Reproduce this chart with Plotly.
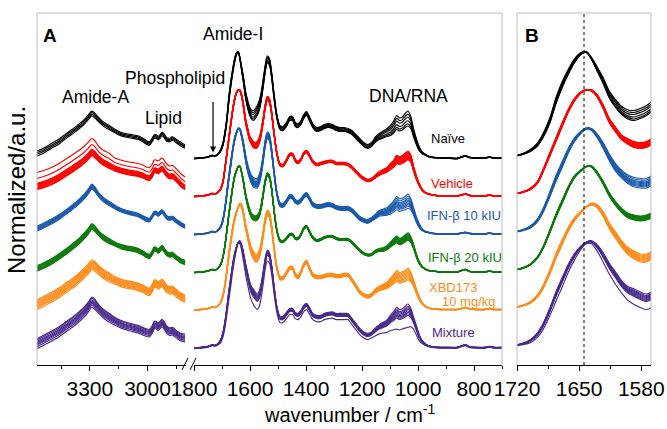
import plotly.graph_objects as go

# ---------------- data ----------------
groups = ["Naïve", "Vehicle", "IFN-β 10 kIU", "IFN-β 20 kIU", "XBD173", "Mixture"]
colors = ["#000000", "#ff0000", "#1a5aab", "#0b7a0b", "#ff8c1a", "#4b2a8c"]

# stacking offsets (a.u.)
offsets = [206.5, 168.5, 130.5, 92.5, 55.0, 17.0]

# Amide-A / lipid region wavenumbers (cm-1)
wn_high = [3575, 3540, 3500, 3460, 3420, 3380, 3350, 3325, 3305, 3290,
           3275, 3255, 3230, 3200, 3170, 3140, 3110, 3080, 3050, 3025,
           3005, 2990, 2975, 2965, 2955, 2945, 2935, 2925, 2915, 2900,
           2885, 2870, 2855, 2840, 2825, 2805]

high_naive = [5, 8, 12.5, 17, 23, 28.5, 33, 37.5, 42, 45,
              43, 39, 34.5, 31, 27.5, 24.5, 23, 22, 21, 18.5,
              16, 15, 19, 22, 22, 20.5, 22, 24.5, 23, 19,
              18.5, 20, 18, 16, 14, 12]
high_vehicle = [10, 12, 15, 19, 24, 29, 33, 37, 41, 44,
                42, 38, 34, 31, 28, 26, 24.5, 23.5, 22.5, 21,
                19, 18.5, 22, 26, 26, 25, 26.5, 28, 26, 22,
                20, 20.5, 18, 15, 12, 9]
high_ifn10 = [6, 9, 13, 17.5, 23, 29, 34, 39, 44, 48,
              45.5, 40, 35, 31, 27.5, 24.5, 22.5, 21, 19.5, 17,
              15, 14.5, 18.5, 21.5, 21.5, 20, 21.5, 23, 21, 17,
              16, 16.5, 14, 12, 10, 8]
high_ifn20 = [4, 7, 11, 16, 21.5, 27.5, 32.5, 37.5, 42, 46,
              44, 39.5, 35, 31.5, 28.5, 26, 24.5, 23.5, 22, 19.5,
              17, 16, 20, 23.5, 23, 21.5, 23, 25, 23, 19,
              17.5, 18, 15.5, 13.5, 11.5, 10]
high_xbd = [5, 8.5, 12.5, 17, 22.5, 28, 33, 37.5, 41.5, 45,
            43.5, 40, 36, 32.5, 29.5, 27, 25.5, 24.5, 23, 21,
            19, 18, 22, 26, 26, 24.5, 25.5, 27, 25, 21,
            19.5, 20, 17.5, 15, 13, 11]
high_mix = [4.5, 8, 12, 16.5, 22, 27.5, 32.5, 37, 42, 46,
            44, 39.5, 34.5, 30.5, 27, 24, 22, 20.5, 19, 17,
            15.5, 15, 19, 23, 23, 21.5, 23, 25, 23, 18.5,
            16.5, 17, 14.5, 12.5, 11, 10]
high_spread = [4, 4, 4, 4, 4, 4, 4, 4, 4, 4,
               4, 3.5, 3.5, 3.5, 3, 3, 3, 3, 3, 3,
               3, 3, 3, 3, 3, 3, 3, 3, 3, 3,
               3, 3, 3, 3, 3, 3]

# fingerprint region wavenumbers (cm-1)
wn_low = [1800, 1775, 1750, 1735, 1725, 1715, 1705, 1697, 1690, 1683,
          1676, 1669, 1662, 1655, 1648, 1642, 1636, 1630, 1623, 1616,
          1609, 1602, 1595, 1588, 1581, 1574, 1567, 1560, 1552, 1545,
          1538, 1531, 1523, 1514, 1504, 1493, 1482, 1470, 1458, 1448,
          1438, 1428, 1418, 1408, 1398, 1388, 1376, 1362, 1348, 1334,
          1320, 1306, 1292, 1278, 1264, 1250, 1236, 1222, 1208, 1194,
          1180, 1166, 1152, 1138, 1124, 1110, 1098, 1086, 1076, 1066,
          1056, 1046, 1036, 1026, 1016, 1006, 996, 986, 975, 962,
          945, 920, 890, 860, 845, 830, 815, 790, 760, 745,
          730, 700]

low_naive = [0, 0.5, 1.5, 3, 2.5, 4, 8, 14, 24, 38,
             58, 74, 87, 98, 105, 106.5, 100, 90, 78, 64,
             55, 48, 44, 43, 45, 48, 53, 62, 77, 91,
             99, 97, 84, 62, 42, 31, 30, 34, 40, 40,
             34, 33, 36, 42, 45, 40, 33, 29, 30, 32,
             33, 32, 30, 29, 29, 28, 26, 22, 18, 14,
             12, 14, 19, 22, 24, 26, 28, 32, 36, 34,
             35, 38, 40, 36, 26, 17, 10, 6, 4, 2,
             1, 0.5, 0.5, 0, 1.5, 2.5, 1, 0.5, 0.5, 1.5,
             0.5, 0.5]
low_vehicle = [0, 0.5, 1.5, 3, 2.5, 4, 7.5, 14, 27, 42,
               57, 72, 86, 97, 104, 106.5, 106, 101, 90, 76,
               67, 59, 55, 52, 51, 52, 56, 64, 78, 91,
               98, 96, 84, 63, 43, 32, 31, 36, 42, 42,
               36, 34, 37, 43, 45, 41, 35, 32, 33, 34,
               35, 35, 33, 33, 33, 32, 29, 25, 21, 18,
               16, 17, 20, 23, 25, 27, 30, 33, 37, 36,
               37, 39, 41, 38, 28, 19, 12, 7, 4, 2.5,
               1.5, 0.5, 0.5, 0.5, 1.5, 2.5, 1, 0.5, 0.5, 1.5,
               0.5, 0.5]
low_ifn10 = [0, 0.5, 1.5, 3, 2.5, 4, 7.5, 14, 25, 40,
             56, 70, 84, 95, 102, 106, 105, 99, 89, 77,
             67, 60, 55, 52, 51, 51, 55, 63, 78, 92,
             99, 97, 84, 62, 41, 30, 29, 33, 38, 37,
             33, 32, 34, 38, 40, 36, 30, 28, 28, 29,
             30, 29, 27, 26, 26, 26, 24, 20, 16, 14,
             13, 15, 18, 21, 22, 23, 25, 28, 31, 29,
             30, 31, 33, 30, 23, 15, 9, 5, 3, 2,
             1, 0.5, 0.5, 0.5, 1.5, 2, 1, 0.5, 0.5, 1.5,
             0.5, 0.5]
low_ifn20 = [0, 0.5, 1.5, 3, 2.5, 4, 8, 15, 26, 41,
             57, 71, 85, 96, 102, 106, 106, 100, 90, 78,
             69, 62, 57, 55, 54, 55, 58, 66, 80, 92,
             98, 96, 84, 62, 42, 32, 31, 34, 38, 38,
             34, 34, 38, 44, 46, 41, 35, 32, 33, 35,
             36, 36, 34, 33, 33, 33, 30, 26, 22, 19,
             17.5, 18, 21, 22.5, 23, 25, 28, 31, 33, 31,
             32, 34, 36, 33, 26, 17, 10, 6, 3.5, 2,
             1.5, 0.5, 0.5, 0.5, 2, 3, 1, 0.5, 0.5, 1.5,
             0.5, 0.5]
low_xbd = [0, 0.5, 1.5, 3, 2.5, 4, 7.5, 14, 24, 38,
           54, 68, 81, 91, 98, 103, 106, 104, 96, 84,
           75, 66, 59, 55, 52, 52, 56, 64, 78, 91,
           97, 95, 83, 62, 42, 32, 32, 37, 42, 42,
           35, 33, 38, 45, 48, 42, 35, 33, 33, 34,
           35, 35, 34, 34, 35, 35, 30, 24, 18, 15,
           13.5, 15, 19, 21.5, 23, 25, 28, 31, 34, 32,
           33, 34, 36, 33, 27, 19, 12, 7, 4, 2,
           1, 0.5, 0.5, 0.5, 1.5, 2.5, 1, 0.5, 0.5, 1.5,
           0.5, 0.5]
low_mix = [0, 0.5, 1.5, 3, 2.5, 4, 7.5, 14, 24, 38,
           54, 68, 82, 93, 101, 105.5, 106.5, 102, 93, 82,
           73, 64, 58, 55, 52, 50, 53, 61, 75, 88,
           95, 93, 81, 60, 40, 30, 30, 34, 38, 38,
           34, 33, 36, 41, 43, 39, 33, 31, 31, 33,
           34, 34.5, 33, 33, 33, 33, 28, 23, 18, 14.5,
           13, 14.5, 18, 21, 23, 25, 29, 32, 35, 33,
           34, 36, 38, 35, 28, 20, 12, 7, 4, 2,
           1, 0.5, 0.5, 0.5, 2, 3, 1, 0.5, 0.5, 1.5,
           0.5, 0.5]
low_spread = [0.3, 0.3, 0.3, 0.3, 0.3, 0.4, 1, 1.5, 2, 2.5,
              3, 3, 2.5, 2, 1, 0.5, 1, 2, 3, 3.5,
              4, 4, 4.5, 5, 5, 5, 5, 4.5, 4, 3.5,
              3.5, 3.5, 3, 2.5, 2, 2, 2, 2, 2, 2,
              2, 2, 2, 2, 2, 2, 2, 2, 2, 2,
              2, 2, 2, 2, 2, 2, 2, 2, 2, 2,
              2, 2, 2.5, 3, 3.5, 4, 5, 6, 7, 6.5,
              6.5, 7, 7.5, 6, 4, 3, 2, 1, 0.5, 0.3,
              0.3, 0.3, 0.3, 0.3, 0.3, 0.3, 0.3, 0.3, 0.3, 0.3,
              0.3, 0.3]

# replicate deviations (in units of the spread profile)
rep_high = [
    [-0.6, -0.2, 0.2, 0.6],
    [-0.8, -0.6, -0.4, -0.2, 0, 0.2, 0.4, 0.6, 0.8, 2.0, 3.5],
    [-0.6, -0.4, -0.2, 0, 0.2, 0.4, 0.6],
    [-0.7, -0.5, -0.3, -0.1, 0.1, 0.3, 0.5, 0.7],
    [-1.2, -0.8, -0.5, -0.2, 0.1, 0.4, 0.7, 1.0, 1.3],
    [-1.3, -0.8, -0.4, -0.1, 0.2, 0.5, 0.9, 1.2],
]
rep_low = [
    [-1.0, -0.7, -0.3, 0.2, 0.6, 1.0],
    [-0.6, -0.5, -0.4, -0.3, -0.2, -0.1, 0, 0.1, 0.2, 0.3, 0.4, 0.5, 0.6],
    [-0.9, -0.6, -0.4, -0.2, 0, 0.2, 0.4, 0.7, 1.0],
    [-0.5, -0.4, -0.3, -0.2, -0.1, 0, 0.1, 0.2, 0.3, 0.4, 0.5],
    [-0.8, -0.6, -0.4, -0.2, 0, 0.2, 0.4, 0.6, 0.8],
    [-0.7, -0.5, -0.3, -0.1, 0.1, 0.3, 0.5, 0.8, -2.3],
]

high_all = [high_naive, high_vehicle, high_ifn10, high_ifn20, high_xbd, high_mix]
low_all = [low_naive, low_vehicle, low_ifn10, low_ifn20, low_xbd, low_mix]

for arr in high_all + [high_spread]:
    assert len(arr) == len(wn_high), len(arr)
for arr in low_all + [low_spread]:
    assert len(arr) == len(wn_low), len(arr)

ticks_high = [3300, 3000]
minor_high = [3450, 3150, 2850]
ticks_low = [1800, 1600, 1400, 1200, 1000, 800]
minor_low = [1700, 1500, 1300, 1100, 900, 700]
ticks_b = [1720, 1650, 1580]
minor_b = [1685, 1615]
amide_i_marker = 1644.5

# ---------------- figure ----------------
W, H = 667, 429
def px(x):
    return x / W
def py(y):
    return 1 - y / H

FONT = "Liberation Sans, Arial, sans-serif"
fig = go.Figure()

def build(wn, base, spread, reps, off):
    xs, ys = [], []
    for c in reps:
        xs += list(wn) + [None]
        ys += [off + v + c * s for v, s in zip(base, spread)] + [None]
    return xs, ys

LW = 1.15
for gi in range(len(groups)):
    col = colors[gi]
    off = offsets[gi]
    xs, ys = build(wn_high, high_all[gi], high_spread, rep_high[gi], off)
    fig.add_trace(go.Scatter(x=xs, y=ys, mode="lines", xaxis="x", yaxis="y",
                             line=dict(color=col, width=LW, shape="spline", smoothing=0.8),
                             hoverinfo="skip", showlegend=False))
    xs, ys = build(wn_low, low_all[gi], low_spread, rep_low[gi], off)
    for ax in ("x2", "x3"):
        fig.add_trace(go.Scatter(x=xs, y=ys, mode="lines", xaxis=ax, yaxis="y",
                                 line=dict(color=col, width=LW, shape="spline", smoothing=0.8),
                                 hoverinfo="skip", showlegend=False))

def xax(domain, rng, tv, mv):
    return dict(domain=domain, range=rng, anchor="y", tickmode="array", tickvals=tv,
                ticktext=[str(v) for v in tv],
                ticks="outside", ticklen=5, tickwidth=1, tickcolor="black",
                showline=True, linecolor="black", linewidth=1,
                showgrid=False, zeroline=False, automargin=False,
                tickfont=dict(size=21, color="black", family=FONT),
                minor=dict(tickmode="array", tickvals=mv, ticks="outside", ticklen=3,
                           tickwidth=1, tickcolor="black", showgrid=False))

fig.update_layout(
    width=W, height=H, margin=dict(l=0, r=0, t=0, b=0, autoexpand=False),
    paper_bgcolor="white", plot_bgcolor="rgba(0,0,0,0)",
    showlegend=False, font=dict(family=FONT, color="black"),
    xaxis=xax([px(37), px(186)], [3575, 2800], ticks_high, minor_high),
    xaxis2=xax([px(194), px(502)], [1800, 700], ticks_low, minor_low),
    xaxis3=xax([px(517), px(651)], [1720, 1569], ticks_b, minor_b),
    yaxis=dict(domain=[py(365), py(13)], range=[0, 352], visible=False, anchor="x"),
)

shapes = []
frame_col = "#bdbdbd"
def pline(x0, y0, x1, y1, color=frame_col, width=1, dash=None):
    d = dict(type="line", xref="paper", yref="paper", x0=px(x0), y0=py(y0),
             x1=px(x1), y1=py(y1), line=dict(color=color, width=width))
    if dash:
        d["line"]["dash"] = dash
    shapes.append(d)

pline(37, 13, 37, 365)
pline(37, 13, 502, 13)
pline(502, 13, 502, 365)
pline(517, 13, 517, 365)
pline(517, 13, 651, 13)
pline(651, 13, 651, 365)
# axis-break marks
pline(182, 370, 188, 358, color="black", width=1)
pline(190, 370, 196, 358, color="black", width=1)
# amide-I position in panel B
shapes.append(dict(type="line", xref="x3", yref="paper", x0=amide_i_marker, x1=amide_i_marker,
                   y0=py(365), y1=py(13), line=dict(color="black", width=1, dash="dot")))
fig.update_layout(shapes=shapes)

ann = []
def text(t, x, y, size, color="black", xanchor="center", bold=False, angle=0):
    ann.append(dict(text=("<b>%s</b>" % t) if bold else t, x=px(x), y=py(y),
                    xref="paper", yref="paper", showarrow=False, xanchor=xanchor,
                    yanchor="middle", textangle=angle,
                    font=dict(size=size, color=color, family=FONT)))

text("A", 50, 35, 19, bold=True)
text("B", 532, 35, 19, bold=True)
text("Amide-A", 96, 97, 17.5)
text("Lipid", 163, 118, 17.5)
text("Phospholipid", 175, 78, 17.5)
text("Amide-I", 233, 34, 17.5)
text("DNA/RNA", 408, 96, 17.5)
text(groups[0], 429, 138, 13, colors[0], xanchor="left")
text(groups[1], 429, 183, 13, colors[1], xanchor="left")
text(groups[2], 425, 215, 13, colors[2], xanchor="left")
text(groups[3], 426, 257, 13, colors[3], xanchor="left")
text(groups[4], 427, 287, 13, colors[4], xanchor="left")
text("10 mg/kg", 497, 301, 13, colors[4], xanchor="right")
text(groups[5], 430, 332, 13, colors[5], xanchor="left")
text("wavenumber / cm<sup>-1</sup>", 350, 413, 20)
text("Normalized/a.u.", 16, 190, 24, angle=-90)

ann.append(dict(x=1732, y=offsets[0] + 6, xref="x2", yref="y", text="", showarrow=True,
                ax=0, ay=-52, arrowhead=2, arrowsize=1, arrowwidth=1.2,
                arrowcolor="black", standoff=0))
fig.update_layout(annotations=ann)

fig.write_html("out.html")
